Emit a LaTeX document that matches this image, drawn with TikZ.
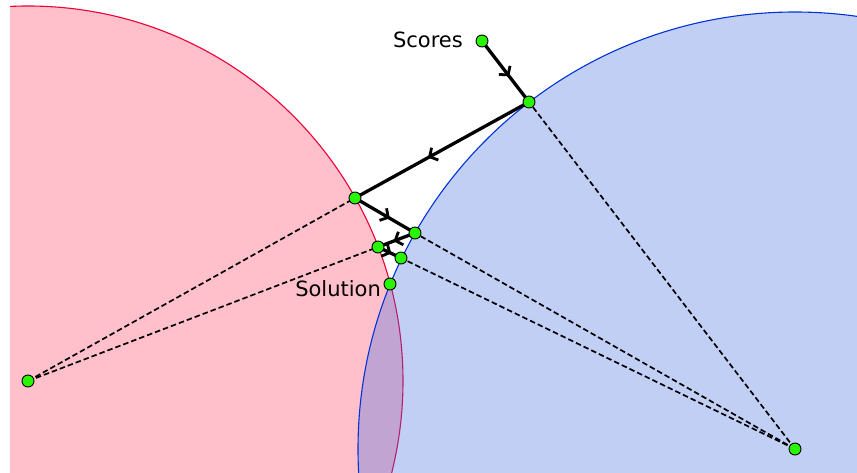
\documentclass[tikz,border=0pt]{standalone}
\usepackage{fontspec}
\setmainfont{DejaVu Sans}
\usetikzlibrary{arrows.meta,decorations.markings}
\definecolor{redfill}{RGB}{255,192,203}
\definecolor{rededge}{RGB}{235,0,55}
\definecolor{bluefill}{RGB}{65,105,225}
\definecolor{blueedge}{RGB}{0,50,215}
\definecolor{dotgreen}{RGB}{40,245,0}
\tikzset{
  dotnode/.style={circle,fill=dotgreen,draw=black,line width=0.9pt,inner sep=0pt,minimum size=12pt},
  stepline/.style={line width=3.3pt,black,
    postaction={decorate,decoration={markings,
      mark=at position 0.58 with {\arrow[line width=2.8pt]{Straight Barb[length=6pt,width=14pt]}}}}},
  dashline/.style={line width=1.7pt,black,dash pattern=on 5.5pt off 3pt},
  lbl/.style={font=\fontsize{21}{25}\selectfont,inner sep=0pt,anchor=base east}
}
\begin{document}
\begin{tikzpicture}[x=1pt,y=-1pt]
\useasboundingbox (0,0) rectangle (857,473);
\begin{scope}
\clip (10,0) rectangle (857,473);
\fill[redfill] (28,381) circle (375);
\draw[rededge,line width=1.1pt] (28,381) circle (375);
\fill[bluefill,opacity=0.32] (795,449) circle (437);
\draw[blueedge,line width=1.1pt] (795,449) circle (437);
\end{scope}
\coordinate (rc) at (28,381);
\coordinate (bc) at (795,449);
\coordinate (p0) at (482,41);
\coordinate (p1) at (529,102);
\coordinate (p2) at (355,198);
\coordinate (p3) at (415,233);
\coordinate (p4) at (378,247);
\coordinate (p5) at (401,258);
\coordinate (sol) at (390,284);
% dashed projections
\draw[dashline] (rc) -- (p2);
\draw[dashline] (rc) -- (p4);
\draw[dashline] (bc) -- (p1);
\draw[dashline] (bc) -- (p3);
\draw[dashline] (bc) -- (p5);
% steps
\draw[stepline] (p0) -- (p1);
\draw[stepline] (p1) -- (p2);
\draw[stepline] (p2) -- (p3);
\draw[stepline] (p3) -- (p4);
\draw[stepline] (p4) -- (p5);
% dots
\node[dotnode] (drc) at (rc) {};
\node[dotnode] (dbc) at (bc) {};
\node[dotnode] (d0) at (p0) {};
\node[dotnode] (d1) at (p1) {};
\node[dotnode] (d2) at (p2) {};
\node[dotnode] (d3) at (p3) {};
\node[dotnode] (d4) at (p4) {};
\node[dotnode] (d5) at (p5) {};
\node[dotnode] (dsol) at (sol) {};
\node[lbl] (tscores) at (463,48) {Scores};
\node[lbl] (tsol) at (381,297) {Solution};
\end{tikzpicture}
\end{document}
